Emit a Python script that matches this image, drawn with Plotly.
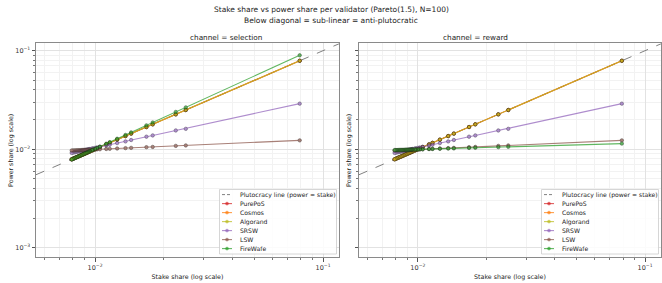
import plotly.graph_objects as go

# ---------------- data ----------------
stake = [0.079, 0.025, 0.0226, 0.0179, 0.0168, 0.0144, 0.0136, 0.0125, 0.0116, 0.0112,
         0.0105, 0.0102, 0.0100, 0.0098, 0.0097, 0.0095, 0.0094, 0.0093, 0.0092, 0.0091,
         0.0090, 0.0089, 0.0088, 0.0087, 0.0086, 0.0085, 0.0084, 0.0083, 0.0082, 0.0081,
         0.0080, 0.0079]

# mechanisms lying on the diagonal (power share = stake share)
purepos_power = [0.079, 0.025, 0.0226, 0.0179, 0.0168, 0.0144, 0.0136, 0.0125, 0.0116, 0.0112,
                 0.0105, 0.0102, 0.0100, 0.0098, 0.0097, 0.0095, 0.0094, 0.0093, 0.0092, 0.0091,
                 0.0090, 0.0089, 0.0088, 0.0087, 0.0086, 0.0085, 0.0084, 0.0083, 0.0082, 0.0081,
                 0.0080, 0.0079]
cosmos_power = list(purepos_power)
algorand_power = list(purepos_power)

srsw_power = [0.0290, 0.0161, 0.0155, 0.0138, 0.0134, 0.0124, 0.0120, 0.01154, 0.0111, 0.0109,
              0.01057, 0.01042, 0.01032, 0.01021, 0.01016, 0.01006, 0.0100, 0.00995, 0.0099, 0.00984,
              0.00979, 0.00973, 0.00968, 0.00962, 0.00957, 0.00951, 0.00946, 0.0094, 0.00934, 0.00929,
              0.00923, 0.00917]

lsw_power = [0.0123, 0.01092, 0.01081, 0.01055, 0.01049, 0.01032, 0.01026, 0.01017, 0.01009, 0.01006,
             0.00999, 0.00996, 0.00994, 0.00992, 0.00991, 0.00989, 0.00988, 0.00986, 0.00985, 0.00984,
             0.00983, 0.00982, 0.00981, 0.0098, 0.00979, 0.00977, 0.00976, 0.00975, 0.00974, 0.00973,
             0.00971, 0.0097]

firewafe_selection_power = [0.0898, 0.02658, 0.0239, 0.01867, 0.01747, 0.01484, 0.01397, 0.01277, 0.0118, 0.01137,
                            0.01062, 0.0103, 0.01008, 0.00987, 0.00977, 0.00955, 0.00945, 0.00934, 0.00923, 0.00913,
                            0.00902, 0.00891, 0.00881, 0.0087, 0.0086, 0.00849, 0.00838, 0.00828, 0.00818, 0.00807,
                            0.00797, 0.00786]

firewafe_reward_power = [0.0114, 0.01057, 0.0105, 0.01034, 0.0103, 0.01019, 0.01016, 0.0101, 0.01005, 0.01003,
                         0.00998, 0.00997, 0.00995, 0.00994, 0.00993, 0.00992, 0.00991, 0.00991, 0.0099, 0.00989,
                         0.00988, 0.00988, 0.00987, 0.00986, 0.00985, 0.00985, 0.00984, 0.00983, 0.00982, 0.00982,
                         0.00981, 0.0098]

mechanisms = ["PurePoS", "Cosmos", "Algorand", "SRSW", "LSW", "FireWafe"]
colors = ["#d62728", "#ff7f0e", "#bcbd22", "#9467bd", "#8c564b", "#2ca02c"]
edge_colors = ["#4a0e0e", "#5a2c05", "#3e3e0b", "#2e2040", "#2e1c18", "#0d340d"]

panels = {
    "selection": [purepos_power, cosmos_power, algorand_power, srsw_power, lsw_power, firewafe_selection_power],
    "reward": [purepos_power, cosmos_power, algorand_power, srsw_power, lsw_power, firewafe_reward_power],
}
panel_titles = ["channel = selection", "channel = reward"]

x_range_log = [-2.259, -0.930]
y_range_log = [-3.097, -0.925]

major_x = [1e-2, 1e-1]
major_x_text = ["10<sup>−2</sup>", "10<sup>−1</sup>"]
major_y = [1e-3, 1e-2, 1e-1]
major_y_text = ["10<sup>−3</sup>", "10<sup>−2</sup>", "10<sup>−1</sup>"]
minor_vals = [m * 10.0 ** e for e in (-3, -2, -1) for m in range(2, 10)]

# ---------------- layout helpers ----------------
W, H = 662, 283
FONT = "DejaVu Sans"


def px(x):
    return x / W


def py(y):
    return 1 - y / H


frames = [(36, 339), (359, 661)]
frame_top, frame_bottom = 43.3, 257.3

fig = go.Figure()

diag = [10 ** x_range_log[0], 10 ** x_range_log[1]]

for i, (name, powers) in enumerate(panels.items()):
    xa = "x" if i == 0 else "x2"
    ya = "y" if i == 0 else "y2"
    fig.add_trace(go.Scatter(x=diag, y=diag, mode="lines", xaxis=xa, yaxis=ya,
                             line=dict(color="#808080", width=1, dash="dash"),
                             showlegend=False, hoverinfo="skip"))
    for m, col, ec, pw in zip(mechanisms, colors, edge_colors, powers):
        fig.add_trace(go.Scatter(
            x=stake, y=pw, mode="lines+markers", name=m, xaxis=xa, yaxis=ya,
            line=dict(color=col, width=1.1),
            marker=dict(size=3.4, color=col, line=dict(color=ec, width=0.6)),
            opacity=0.75, showlegend=False))

axis_common = dict(
    type="log", showline=True, linecolor="#8a8a8a", linewidth=0.9, mirror=True,
    ticks="outside", ticklen=3.5, tickwidth=0.8, tickcolor="#555555",
    showgrid=True, gridcolor="#e2e2e2", gridwidth=0.6, zeroline=False,
    tickfont=dict(family=FONT, size=6.5, color="#333333"),
    minor=dict(tickvals=minor_vals, ticks="outside", ticklen=2, tickwidth=0.6,
               tickcolor="#777777", showgrid=True, gridcolor="#f2f2f2", gridwidth=0.5),
)

title_font = dict(family=FONT, size=6.3, color="#222222")

fig.update_layout(
    width=W, height=H, margin=dict(l=0, r=0, t=0, b=0),
    paper_bgcolor="white", plot_bgcolor="white",
    font=dict(family=FONT, color="#222222"),
    showlegend=False,
    xaxis=dict(axis_common, domain=[px(frames[0][0]), px(frames[0][1])], range=x_range_log,
               tickvals=major_x, ticktext=major_x_text, anchor="y",
               title=dict(text="Stake share (log scale)", font=title_font, standoff=4)),
    xaxis2=dict(axis_common, domain=[px(frames[1][0]), px(frames[1][1])], range=x_range_log,
                tickvals=major_x, ticktext=major_x_text, anchor="y2",
                title=dict(text="Stake share (log scale)", font=title_font, standoff=4)),
    yaxis=dict(axis_common, domain=[py(frame_bottom), py(frame_top)], range=y_range_log,
               tickvals=major_y, ticktext=major_y_text, anchor="x",
               title=dict(text="Power share (log scale)", font=title_font, standoff=0)),
    yaxis2=dict(axis_common, domain=[py(frame_bottom), py(frame_top)], range=y_range_log,
                tickvals=major_y, ticktext=major_y_text, anchor="x2", showticklabels=False,
                title=dict(text="Power share (log scale)", font=title_font, standoff=2)),
)

annotations = [
    dict(text="Stake share vs power share per validator (Pareto(1.5), N=100)", x=0.5, y=py(9.5),
         xref="paper", yref="paper", yanchor="middle", showarrow=False,
         font=dict(family=FONT, size=7.5, color="#222")),
    dict(text="Below diagonal = sub-linear = anti-plutocratic", x=0.5, y=py(20),
         xref="paper", yref="paper", yanchor="middle", showarrow=False,
         font=dict(family=FONT, size=7.5, color="#222")),
]
for (x0, x1), t in zip(frames, panel_titles):
    annotations.append(dict(text=t, x=px((x0 + x1) / 2), y=py(37), xref="paper", yref="paper",
                            yanchor="middle", showarrow=False,
                            font=dict(family=FONT, size=7.3, color="#222")))

# ---------------- manual legends (compact, matplotlib-like) ----------------
shapes = []
legend_labels = ["Plutocracy line (power = stake)"] + mechanisms
for (x0, x1) in frames:
    bx1 = x1 - 2.5
    bx0 = bx1 - 117
    by0, by1 = 189.5, 254.0
    shapes.append(dict(type="rect", xref="paper", yref="paper",
                       x0=px(bx0), x1=px(bx1), y0=py(by1), y1=py(by0),
                       fillcolor="rgba(255,255,255,0.85)", line=dict(color="#cccccc", width=0.8)))
    for k, lab in enumerate(legend_labels):
        yc = 194.6 + 9.0 * k
        lx0, lx1 = bx0 + 2.5, bx0 + 12.5
        if k == 0:
            shapes.append(dict(type="line", xref="paper", yref="paper",
                               x0=px(lx0), x1=px(lx1), y0=py(yc), y1=py(yc),
                               line=dict(color="#808080", width=1, dash="3px,2px")))
        else:
            col = colors[k - 1]
            shapes.append(dict(type="line", xref="paper", yref="paper",
                               x0=px(lx0), x1=px(lx1), y0=py(yc), y1=py(yc),
                               line=dict(color=col, width=1.1), opacity=0.75))
            cx = (lx0 + lx1) / 2
            r = 1.5
            shapes.append(dict(type="circle", xref="paper", yref="paper",
                               x0=px(cx - r), x1=px(cx + r), y0=py(yc + r), y1=py(yc - r),
                               fillcolor=col, line=dict(color=col, width=0.5), opacity=0.75))
        annotations.append(dict(text=lab, x=px(bx0 + 18), y=py(yc), xref="paper", yref="paper",
                                xanchor="left", yanchor="middle", showarrow=False,
                                font=dict(family=FONT, size=6.1, color="#222")))

fig.update_layout(annotations=annotations, shapes=shapes)

fig.write_html("out.html", config={"displayModeBar": False},
               post_script="document.body.style.margin='0';document.body.style.overflow='hidden';")
